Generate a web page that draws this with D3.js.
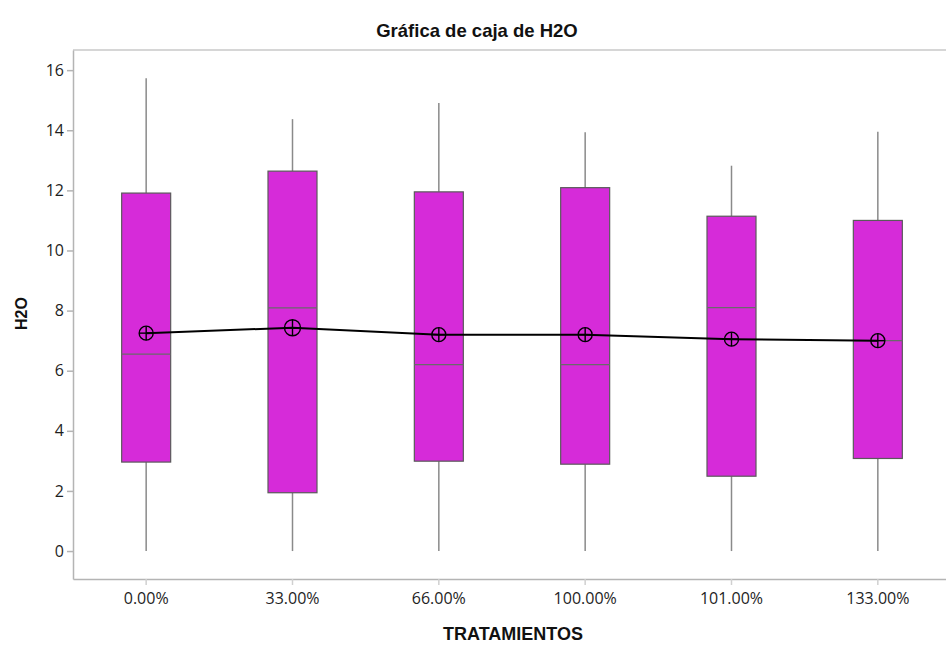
<!DOCTYPE html>
<html>
<head>
<meta charset="utf-8">
<script src="https://cdn.jsdelivr.net/npm/d3@7"></script>
<style>
  html, body { margin: 0; padding: 0; background: #fff; }
  svg { display: block; }
  .axis text { font-family: 'Open Sans', sans-serif; font-size: 16px; fill: #1e1e1e; }
</style>
</head>
<body>
<svg id="chart" width="946" height="647"></svg>
<script>
// Treatments and the box-plot summary of H2O for each one
const categories = ["0.00%", "33.00%", "66.00%", "100.00%", "101.00%", "133.00%"];
const whiskerLow = [0, 0, 0, 0, 0, 0];
const q1 = [2.96, 1.94, 2.99, 2.89, 2.49, 3.08];
const median = [6.55, 8.09, 6.2, 6.2, 8.1, 7.0];
const q3 = [11.91, 12.64, 11.95, 12.09, 11.14, 11.0];
const whiskerHigh = [15.73, 14.37, 14.91, 13.93, 12.82, 13.95];
const means = [7.25, 7.43, 7.2, 7.2, 7.05, 7.0];
const yTicks = [0, 2, 4, 6, 8, 10, 12, 14, 16];

const svg = d3.select("#chart");
const plotLeft = 73, plotRight = 951, plotTop = 50, plotBottom = 579;

const x = d3.scaleBand().domain(categories).range([plotLeft, plotRight]);
const y = d3.scaleLinear().domain([-0.93, 16.67]).range([plotBottom, plotTop]);

const rows = categories.map((c, i) => ({
  c, lo: whiskerLow[i], q1: q1[i], med: median[i], q3: q3[i], hi: whiskerHigh[i], mean: means[i]
}));

const cx = d => x(d.c) + x.bandwidth() / 2;
const boxW = 49;

// Top frame line
svg.append("line").attr("x1", plotLeft).attr("x2", plotRight).attr("y1", plotTop).attr("y2", plotTop)
  .attr("stroke", "#c8c8c8").attr("stroke-width", 1.5);

// Y axis
const yAxis = svg.append("g").attr("class", "axis").attr("transform", `translate(${plotLeft},0)`)
  .call(d3.axisLeft(y).tickValues(yTicks).tickSize(6).tickPadding(3).tickSizeOuter(0));
yAxis.attr("font-size", null).attr("font-family", null);
yAxis.select(".domain").attr("stroke", "#b4b4b4").attr("stroke-width", 1.5);
yAxis.selectAll(".tick line").attr("stroke", "#b4b4b4").attr("stroke-width", 1.5);
yAxis.selectAll(".tick text").attr("fill", null);

// X axis
const xAxis = svg.append("g").attr("class", "axis").attr("transform", `translate(0,${plotBottom})`)
  .call(d3.axisBottom(x).tickSize(6).tickPadding(8).tickSizeOuter(0));
xAxis.attr("font-size", null).attr("font-family", null);
xAxis.select(".domain").attr("stroke", "#b4b4b4").attr("stroke-width", 1.5);
xAxis.selectAll(".tick line").attr("stroke", "#d0d0d0").attr("stroke-width", 1.5);
xAxis.selectAll(".tick text").attr("fill", null);

// Whiskers
const g = svg.append("g");
g.selectAll("line.whisk-hi").data(rows).join("line").attr("class", "whisk-hi")
  .attr("x1", cx).attr("x2", cx).attr("y1", d => y(d.hi)).attr("y2", d => y(d.q3))
  .attr("stroke", "#8a8a8a").attr("stroke-width", 1.5);
g.selectAll("line.whisk-lo").data(rows).join("line").attr("class", "whisk-lo")
  .attr("x1", cx).attr("x2", cx).attr("y1", d => y(d.q1)).attr("y2", d => y(d.lo))
  .attr("stroke", "#8a8a8a").attr("stroke-width", 1.5);

// Boxes
g.selectAll("rect.box").data(rows).join("rect").attr("class", "box")
  .attr("x", d => cx(d) - boxW / 2).attr("width", boxW)
  .attr("y", d => y(d.q3)).attr("height", d => y(d.q1) - y(d.q3))
  .attr("fill", "#d62bd9").attr("stroke", "#5a5a5a").attr("stroke-width", 1.2);

// Medians
g.selectAll("line.med").data(rows).join("line").attr("class", "med")
  .attr("x1", d => cx(d) - boxW / 2).attr("x2", d => cx(d) + boxW / 2)
  .attr("y1", d => y(d.med)).attr("y2", d => y(d.med))
  .attr("stroke", "#6a6a6a").attr("stroke-width", 1.2);

// Mean connecting line
svg.append("path").datum(rows)
  .attr("d", d3.line().x(cx).y(d => y(d.mean)))
  .attr("fill", "none").attr("stroke", "#000").attr("stroke-width", 2);

// Mean markers: circle with cross
const rad = (d, i) => i === 1 ? 8 : 7;
const m = svg.append("g").selectAll("g").data(rows).join("g")
  .attr("transform", d => `translate(${cx(d)},${y(d.mean)})`);
m.append("circle").attr("r", rad).attr("fill", "none")
  .attr("stroke", "#000").attr("stroke-width", 1.4);
m.append("line").attr("x1", (d, i) => -rad(d, i)).attr("x2", rad)
  .attr("stroke", "#000").attr("stroke-width", 1.4);
m.append("line").attr("y1", (d, i) => -rad(d, i)).attr("y2", rad)
  .attr("stroke", "#000").attr("stroke-width", 1.4);

// Titles
svg.append("text").attr("x", 477).attr("y", 37).attr("text-anchor", "middle")
  .style("font-family", "'Liberation Sans', Arial, sans-serif").style("font-weight", "bold")
  .style("font-size", "18.5px").attr("fill", "#111").text("Gráfica de caja de H2O");

svg.append("text").attr("x", 513).attr("y", 640).attr("text-anchor", "middle")
  .style("font-family", "'Liberation Sans', Arial, sans-serif").style("font-weight", "bold")
  .style("font-size", "18px").attr("fill", "#111").text("TRATAMIENTOS");

svg.append("text").attr("transform", `translate(27,${(plotTop + plotBottom) / 2 - 1}) rotate(-90)`)
  .attr("text-anchor", "middle")
  .style("font-family", "'Liberation Sans', Arial, sans-serif").style("font-weight", "bold")
  .style("font-size", "16px").attr("fill", "#111").text("H2O");
</script>
</body>
</html>
